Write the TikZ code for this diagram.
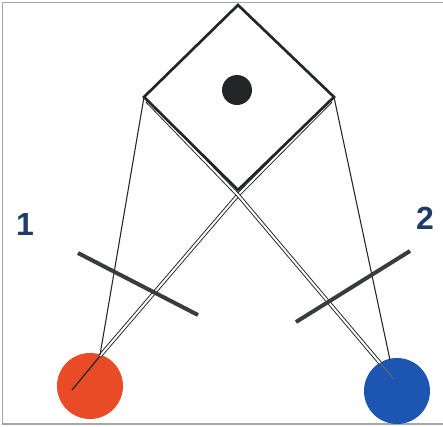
\documentclass[tikz,border=0pt]{standalone}
\usepackage{fontspec}
\setmainfont{Liberation Sans}
\definecolor{redball}{HTML}{E84B26}
\definecolor{blueball}{HTML}{1D55B2}
\definecolor{labelblue}{HTML}{1F3D6B}
\definecolor{inkdark}{HTML}{222626}
\tikzset{
  frameline/.style={draw=gray!70, line width=1.4pt},
  diamondedge/.style={draw=inkdark, line width=2pt, line join=miter},
  thinray/.style={draw=inkdark, line width=0.8pt},
  doubleray/.style={draw=inkdark, line width=0.7pt, double=white, double distance=1.5pt, line join=round},
  bar/.style={draw=inkdark!90, line width=3pt},
  ball/.style={circle, minimum size=49.5pt, inner sep=0pt},
  numlabel/.style={text=labelblue, font=\fontsize{24}{24}\selectfont\bfseries, inner sep=0pt}
}
\begin{document}
\begin{tikzpicture}[x=0.75pt,y=-0.75pt]
\useasboundingbox (0,0) rectangle (443,426);
% frame
\draw[frameline] (443,2.5) -- (2.5,2.5) -- (2.5,424) -- (443,424);
% balls
\node[ball, fill=redball] (red) at (90,386) {};
\node[ball, fill=blueball] (blue) at (397,391) {};
% diamond corners
\coordinate (T) at (238,5);
\coordinate (L) at (144,97);
\coordinate (R) at (334,97);
\coordinate (B) at (238,190);
% ray points
\coordinate (lstart) at (147,101);
\coordinate (rstart) at (331,101);
\coordinate (cross) at (238,195);
\coordinate (redtop) at (100,356);
\coordinate (redin) at (72,390);
\coordinate (bluetop) at (380,363);
\coordinate (bluein) at (394,379);
\coordinate (redhit) at (100,355);
\coordinate (bluehit) at (390,360);
% double rays
\draw[doubleray] (rstart) -- (cross) -- (redtop);
\draw[doubleray] (lstart) -- (cross) -- (bluetop);
\draw[inkdark, line width=0.9pt] (redtop) -- (redin);
\draw[inkdark!70, line width=0.7pt] (bluetop) -- (bluein);
% single rays
\draw[thinray] (L) -- (redhit);
\draw[thinray] (R) -- (bluehit);
% diamond
\draw[diamondedge] (T) -- (R) -- (B) -- (L) -- cycle;
\node[circle, fill=inkdark, minimum size=22.5pt, inner sep=0pt] (dot) at (237,90) {};
% bars
\coordinate (b1a) at (78,253);
\coordinate (b1b) at (198,315);
\coordinate (b2a) at (296,322);
\coordinate (b2b) at (410,251);
\draw[bar] (b1a) -- (b1b);
\draw[bar] (b2a) -- (b2b);
% labels
\node[numlabel] (one) at (25,224) {1};
\node[numlabel] (two) at (425,218) {2};
\end{tikzpicture}
\end{document}
